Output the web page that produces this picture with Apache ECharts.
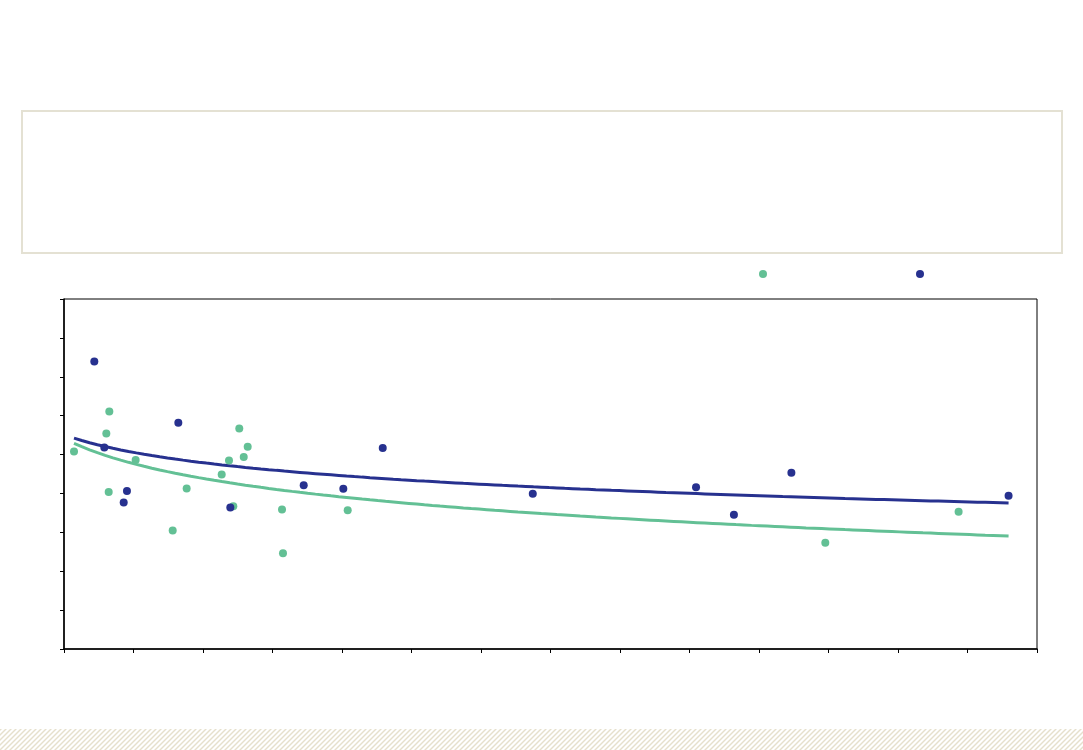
<!DOCTYPE html>
<html>
<head>
<meta charset="utf-8">
<script src="https://cdn.jsdelivr.net/npm/echarts@6/dist/echarts.min.js"></script>
<style>
html,body{margin:0;padding:0;background:#fff;}
#chart{width:1083px;height:750px;}
</style>
</head>
<body>
<div id="chart"></div>
<script>
// ---- data ----
var greenX = [1.144, 1.609, 1.652, 1.643, 2.031, 2.564, 2.765, 3.269, 3.374, 3.436, 3.522, 3.586, 3.643, 4.137, 4.151, 5.082, 11.954, 13.872];
var greenY = [5.08, 5.54, 6.11, 4.04, 4.86, 3.05, 4.13, 4.49, 4.85, 3.67, 5.67, 4.94, 5.20, 3.59, 2.46, 3.57, 2.73, 3.53];
var blueX = [1.436, 1.580, 1.859, 1.906, 2.645, 3.393, 4.449, 5.019, 5.586, 7.745, 10.094, 10.639, 11.466, 14.591];
var blueY = [7.39, 5.18, 3.77, 4.06, 5.82, 3.64, 4.21, 4.12, 5.17, 3.99, 4.16, 3.45, 4.53, 3.94];
var seriesNames = ['A', 'B'];

var GREEN = '#63c095';
var BLUE = '#27318f';

function pairs(xs, ys) { return xs.map(function (x, i) { return [x, ys[i]]; }); }

// logarithmic least-squares trend (y = a + b ln x), computed from the data
function logFit(xs, ys) {
  var n = xs.length, lx = xs.map(Math.log);
  var mx = lx.reduce(function (s, v) { return s + v; }, 0) / n;
  var my = ys.reduce(function (s, v) { return s + v; }, 0) / n;
  var sxy = 0, sxx = 0;
  for (var i = 0; i < n; i++) { sxy += (lx[i] - mx) * (ys[i] - my); sxx += (lx[i] - mx) * (lx[i] - mx); }
  var b = sxy / sxx; return { a: my - b * mx, b: b };
}
var allX = greenX.concat(blueX);
var xLo = Math.min.apply(null, allX), xHi = Math.max.apply(null, allX);
function trend(xs, ys) {
  var f = logFit(xs, ys), out = [], steps = 120;
  for (var i = 0; i <= steps; i++) {
    var x = xLo + (xHi - xLo) * i / steps;
    out.push([x, f.a + f.b * Math.log(x)]);
  }
  return out;
}

// hatched stripe pattern
var pc = document.createElement('canvas');
pc.width = 5; pc.height = 5;
var g = pc.getContext('2d');
g.fillStyle = '#ffffff'; g.fillRect(0, 0, 5, 5);
g.strokeStyle = '#e6e0cc'; g.lineWidth = 1.4;
g.beginPath(); g.moveTo(-1, 6); g.lineTo(6, -1); g.stroke();
g.beginPath(); g.moveTo(-1, 1); g.lineTo(1, -1); g.stroke();
g.beginPath(); g.moveTo(4, 6); g.lineTo(6, 4); g.stroke();

var chart = echarts.init(document.getElementById('chart'), null, { renderer: 'canvas' });
chart.setOption({
  animation: false,
  backgroundColor: '#ffffff',
  graphic: [
    { type: 'rect', shape: { x: 22, y: 111, width: 1040, height: 142 },
      style: { fill: 'none', stroke: '#e4e1d3', lineWidth: 2 }, silent: true },
    { type: 'rect', shape: { x: 0, y: 729, width: 1083, height: 21 },
      style: { fill: { image: pc, repeat: 'repeat' } }, silent: true }
  ],
  legend: {
    data: [{ name: seriesNames[0], itemStyle: { color: GREEN } }, { name: seriesNames[1], itemStyle: { color: BLUE } }],
    left: 754, top: 265,
    icon: 'circle', itemWidth: 8, itemHeight: 8, itemGap: 149,
    formatter: function () { return ''; },
    textStyle: { color: '#000', fontSize: 12 },
    selectedMode: false
  },
  grid: { left: 64, top: 299, width: 973, height: 350, show: true, borderColor: '#000', borderWidth: 1, backgroundColor: 'transparent' },
  xAxis: {
    type: 'value', min: 1, max: 15, interval: 1,
    axisLine: { show: true, lineStyle: { color: '#000', width: 1.5 } },
    axisTick: { show: true, inside: false, length: 4, lineStyle: { color: '#000', width: 1 } },
    axisLabel: { show: false }, splitLine: { show: false }
  },
  yAxis: {
    type: 'value', min: 0, max: 9, interval: 1,
    axisLine: { show: true, lineStyle: { color: '#000', width: 1.5 } },
    axisTick: { show: true, inside: false, length: 4, lineStyle: { color: '#000', width: 1 } },
    axisLabel: { show: false }, splitLine: { show: false }
  },
  series: [
    { name: seriesNames[0] + ' trend', type: 'line', data: trend(greenX, greenY), showSymbol: false, smooth: false,
      lineStyle: { color: GREEN, width: 3 }, z: 2, silent: true },
    { name: seriesNames[1] + ' trend', type: 'line', data: trend(blueX, blueY), showSymbol: false, smooth: false,
      lineStyle: { color: BLUE, width: 3 }, z: 2, silent: true },
    { name: seriesNames[0], type: 'scatter', data: pairs(greenX, greenY), symbolSize: 8,
      itemStyle: { color: GREEN, opacity: 1 }, z: 3 },
    { name: seriesNames[1], type: 'scatter', data: pairs(blueX, blueY), symbolSize: 8,
      itemStyle: { color: BLUE, opacity: 1 }, z: 4 }
  ]
});
</script>
</body>
</html>
